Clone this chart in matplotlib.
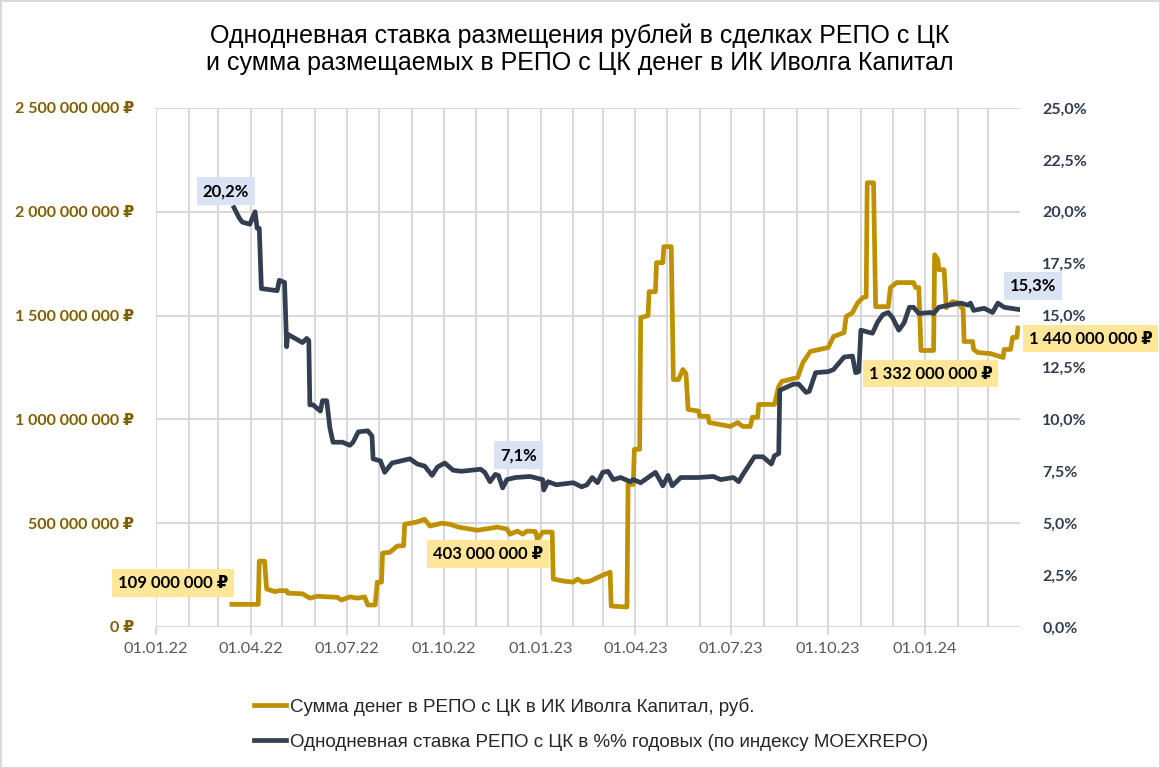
import matplotlib
matplotlib.use("Agg")
import matplotlib.pyplot as plt
import matplotlib.dates as mdates
from matplotlib.ticker import FuncFormatter, MultipleLocator
import pandas as pd

plt.rcParams["font.family"] = ["Lato", "DejaVu Sans"]

TITLE = ("Однодневная ставка размещения рублей в сделках РЕПО с ЦК\n"
         "и сумма размещаемых в РЕПО с ЦК денег в ИК Иволга Капитал")
LABEL_AMOUNT = "Сумма денег в РЕПО с ЦК в ИК Иволга Капитал, руб."
LABEL_RATE = "Однодневная ставка РЕПО с ЦК в %% годовых (по индексу MOEXREPO)"

GOLD = "#BF9000"
DARK = "#333F50"

# Amount placed in CCP repo, mln rub
amount_dates = [
    "2022-03-14", "2022-04-08", "2022-04-09", "2022-04-14", "2022-04-16", "2022-04-24",
    "2022-04-28", "2022-05-05", "2022-05-06", "2022-05-20", "2022-05-27", "2022-06-03",
    "2022-06-22", "2022-06-26", "2022-07-04", "2022-07-11", "2022-07-18", "2022-07-21",
    "2022-07-28", "2022-07-30", "2022-08-03", "2022-08-04", "2022-08-11", "2022-08-18",
    "2022-08-24", "2022-08-25", "2022-09-05", "2022-09-13", "2022-09-18", "2022-09-29",
    "2022-10-07", "2022-10-15", "2022-11-02", "2022-11-21", "2022-11-30", "2022-12-03",
    "2022-12-10", "2022-12-15", "2022-12-19", "2022-12-27", "2022-12-29", "2023-01-03",
    "2023-01-12", "2023-01-13", "2023-01-23", "2023-02-01", "2023-02-05", "2023-02-10",
    "2023-02-17", "2023-02-27", "2023-03-08", "2023-03-09", "2023-03-24", "2023-03-25",
    "2023-03-30", "2023-03-31", "2023-04-05", "2023-04-06", "2023-04-13", "2023-04-14",
    "2023-04-20", "2023-04-21", "2023-04-27", "2023-04-28", "2023-05-05", "2023-05-07",
    "2023-05-12", "2023-05-16", "2023-05-19", "2023-05-21", "2023-05-31", "2023-06-01",
    "2023-06-09", "2023-06-10", "2023-06-30", "2023-07-07", "2023-07-12", "2023-07-19",
    "2023-07-21", "2023-07-26", "2023-07-27", "2023-08-11", "2023-08-15", "2023-08-18",
    "2023-09-02", "2023-09-07", "2023-09-14", "2023-10-01", "2023-10-06", "2023-10-16",
    "2023-10-18", "2023-10-24", "2023-10-29", "2023-11-03", "2023-11-06", "2023-11-07",
    "2023-11-13", "2023-11-15", "2023-11-27", "2023-11-29", "2023-12-05", "2023-12-21",
    "2023-12-23", "2023-12-26", "2023-12-28", "2024-01-09", "2024-01-10", "2024-01-13",
    "2024-01-14", "2024-01-19", "2024-01-21", "2024-01-27", "2024-02-01", "2024-02-06",
    "2024-02-07", "2024-02-15", "2024-02-16", "2024-02-20", "2024-03-03", "2024-03-15",
    "2024-03-16", "2024-03-22", "2024-03-24", "2024-03-28", "2024-03-29",
]
amount_mln = [
    109, 109, 317, 317, 183, 170,
    175, 175, 163, 160, 139, 148,
    143, 130, 145, 139, 145, 106,
    106, 216, 216, 356, 360, 390,
    392, 495, 505, 519, 486, 500,
    495, 481, 466, 481, 472, 447,
    462, 447, 462, 460, 423, 457,
    457, 231, 221, 216, 231, 216,
    221, 245, 264, 101, 96, 687,
    687, 856, 856, 1490, 1500, 1615,
    1615, 1755, 1755, 1832, 1832, 1192,
    1192, 1240, 1220, 1048, 1040, 1015,
    1015, 985, 966, 985, 966, 966,
    1010, 1010, 1072, 1072, 1159, 1183,
    1202, 1274, 1327, 1346, 1399, 1418,
    1495, 1514, 1562, 1587, 1590, 2140,
    2140, 1543, 1543, 1635, 1659, 1659,
    1635, 1635, 1332, 1332, 1793, 1770,
    1721, 1721, 1538, 1567, 1562, 1530,
    1375, 1375, 1337, 1322, 1317, 1298,
    1337, 1337, 1395, 1395, 1440,
]

# Overnight CCP repo rate, %
rate_dates = [
    "2022-03-16", "2022-03-21", "2022-03-24", "2022-03-31", "2022-04-05", "2022-04-07",
    "2022-04-09", "2022-04-11", "2022-04-26", "2022-04-28", "2022-05-03", "2022-05-05",
    "2022-05-06", "2022-05-20", "2022-05-24", "2022-05-26", "2022-05-27", "2022-05-30",
    "2022-06-06", "2022-06-08", "2022-06-12", "2022-06-15", "2022-06-18", "2022-06-27",
    "2022-07-04", "2022-07-07", "2022-07-12", "2022-07-21", "2022-07-25", "2022-07-26",
    "2022-08-02", "2022-08-06", "2022-08-13", "2022-08-30", "2022-09-06", "2022-09-13",
    "2022-09-20", "2022-09-25", "2022-10-02", "2022-10-10", "2022-10-18", "2022-11-05",
    "2022-11-09", "2022-11-14", "2022-11-19", "2022-11-22", "2022-11-26", "2022-11-30",
    "2022-12-08", "2022-12-22", "2023-01-03", "2023-01-04", "2023-01-08", "2023-01-16",
    "2023-02-01", "2023-02-09", "2023-02-14", "2023-02-19", "2023-02-24", "2023-03-01",
    "2023-03-06", "2023-03-11", "2023-03-18", "2023-03-27", "2023-03-30", "2023-04-06",
    "2023-04-13", "2023-04-20", "2023-04-25", "2023-04-27", "2023-05-02", "2023-05-06",
    "2023-05-14", "2023-05-30", "2023-06-14", "2023-06-21", "2023-07-03", "2023-07-08",
    "2023-07-12", "2023-07-23", "2023-07-31", "2023-08-08", "2023-08-11", "2023-08-15",
    "2023-08-16", "2023-08-29", "2023-09-03", "2023-09-10", "2023-09-13", "2023-09-19",
    "2023-10-01", "2023-10-06", "2023-10-16", "2023-10-24", "2023-10-27", "2023-10-30",
    "2023-11-01", "2023-11-08", "2023-11-12", "2023-11-17", "2023-11-22", "2023-11-27",
    "2023-12-01", "2023-12-07", "2023-12-12", "2023-12-17", "2023-12-21", "2023-12-26",
    "2024-01-06", "2024-01-09", "2024-01-14", "2024-01-23", "2024-02-04", "2024-02-11",
    "2024-02-13", "2024-02-16", "2024-02-26", "2024-03-05", "2024-03-10", "2024-03-16",
    "2024-03-29",
]
rate_pct = [
    20.2, 19.7, 19.5, 19.4, 20.0, 19.2,
    19.2, 16.3, 16.2, 16.7, 16.6, 13.5,
    14.1, 13.7, 13.9, 13.8, 10.7, 10.7,
    10.4, 10.9, 10.9, 9.6, 8.9, 8.9,
    8.75, 8.9, 9.4, 9.45, 9.2, 8.1,
    8.0, 7.45, 7.9, 8.1, 7.85, 7.75,
    7.3, 7.7, 7.9, 7.55, 7.5, 7.6,
    7.45, 7.0, 7.35, 7.3, 6.7, 7.1,
    7.2, 7.25, 7.1, 6.6, 7.0, 6.85,
    6.95, 6.75, 6.85, 7.2, 6.95, 7.45,
    7.5, 7.1, 7.2, 7.0, 7.1, 6.95,
    7.2, 7.45, 7.0, 6.8, 7.3, 6.8,
    7.2, 7.2, 7.25, 7.1, 7.2, 7.0,
    7.35, 8.2, 8.2, 7.85, 8.25, 8.35,
    11.4, 11.7, 11.7, 11.3, 11.35, 12.25,
    12.3, 12.4, 13.0, 13.05, 12.25, 12.3,
    14.3, 14.2, 14.15, 14.7, 15.05, 15.15,
    14.9, 14.3, 14.65, 15.4, 15.4, 15.1,
    15.15, 15.1, 15.4, 15.5, 15.6, 15.5,
    15.6, 15.25, 15.35, 15.15, 15.6, 15.4,
    15.3,
]

# Callouts: (date, value, text)
amount_notes = [
    ("2022-01-17", 211, "109 000 000 ₽"),
    ("2022-11-12", 351, "403 000 000 ₽"),
    ("2024-01-06", 1221, "1 332 000 000 ₽"),
    ("2024-06-06", 1389, "1 440 000 000 ₽"),
]
rate_notes = [
    ("2022-03-08", 21.0, "20,2%"),
    ("2022-12-11", 8.27, "7,1%"),
    ("2024-04-12", 16.44, "15,3%"),
]


def rub_fmt(v, _pos):
    return f"{int(round(v)):,}".replace(",", " ") + " ₽"


def pct_fmt(v, _pos):
    return f"{v:.1f}%".replace(".", ",")


def main() -> None:
    fig = plt.figure(figsize=(11.6, 7.68), dpi=100)
    fig.patch.set_edgecolor("#D9D9D9")
    fig.patch.set_linewidth(2)
    ax = fig.add_axes([0.1345, 0.1836, 0.7448, 0.6758])
    ax2 = ax.twinx()

    a_x = pd.to_datetime(amount_dates)
    r_x = pd.to_datetime(rate_dates)
    ax.plot(a_x, [v * 1e6 for v in amount_mln], color=GOLD, lw=3.4,
            solid_joinstyle="round", label=LABEL_AMOUNT)
    ax2.plot(r_x, rate_pct, color=DARK, lw=3.4, solid_joinstyle="round",
             label=LABEL_RATE)

    ax.set_xlim(pd.Timestamp("2022-01-01"), pd.Timestamp("2024-03-31"))
    ax.set_ylim(0, 2.5e9)
    ax2.set_ylim(0, 25)

    ax.yaxis.set_major_locator(MultipleLocator(5e8))
    ax.yaxis.set_major_formatter(FuncFormatter(rub_fmt))
    ax2.yaxis.set_major_locator(MultipleLocator(2.5))
    ax2.yaxis.set_major_formatter(FuncFormatter(pct_fmt))

    ax.xaxis.set_major_locator(mdates.MonthLocator(bymonth=[1, 4, 7, 10]))
    ax.xaxis.set_major_formatter(mdates.DateFormatter("%d.%m.%y"))
    ax.xaxis.set_minor_locator(mdates.MonthLocator())

    ax.grid(True, which="both", axis="x", color="#D9D9D9", lw=1.5)
    ax.grid(True, which="major", axis="y", color="#D9D9D9", lw=1.5)
    ax.set_axisbelow(True)

    for a in (ax, ax2):
        for s in ("top", "left", "right", "bottom"):
            a.spines[s].set_visible(False)
    ax.tick_params(axis="y", length=0, pad=16, labelsize=11.5, labelcolor="#7F6000")
    ax2.tick_params(axis="y", length=0, pad=16, labelsize=11.5, labelcolor=DARK)
    ax.tick_params(axis="x", which="major", length=6, width=1.5, color="#D9D9D9",
                   pad=5, labelsize=11.8, labelcolor="#595959")
    ax.tick_params(axis="x", which="minor", length=0)
    for lab in ax.get_yticklabels() + ax2.get_yticklabels():
        lab.set_fontweight("bold")

    for d, v, t in amount_notes:
        ax.text(pd.Timestamp(d), v * 1e6, t, ha="center", va="center", fontsize=12,
                fontweight="bold", color="black", clip_on=False,
                bbox=dict(boxstyle="square,pad=0.35", fc="#FFE699", ec="none"))
    for d, v, t in rate_notes:
        ax2.text(pd.Timestamp(d), v, t, ha="center", va="center", fontsize=12,
                 fontweight="bold", color="black", clip_on=False,
                 bbox=dict(boxstyle="square,pad=0.35", fc="#DAE3F3", ec="none"))

    fig.suptitle(TITLE, x=0.5, y=0.970, fontsize=18, linespacing=1.2,
                 family=["Liberation Sans", "DejaVu Sans"], va="top")

    h1, l1 = ax.get_legend_handles_labels()
    h2, l2 = ax2.get_legend_handles_labels()
    fig.legend(h1 + h2, l1 + l2, loc="upper left", bbox_to_anchor=(0.211, 0.104),
               frameon=False, handlelength=1.7, handletextpad=0.2, borderpad=0,
               labelspacing=0.95, labelcolor="#262626",
               prop={"family": ["Liberation Sans", "DejaVu Sans"], "size": 13.5})

    fig.savefig("out.png", dpi=100, edgecolor=fig.get_edgecolor())
    plt.close(fig)


if __name__ == "__main__":
    main()
